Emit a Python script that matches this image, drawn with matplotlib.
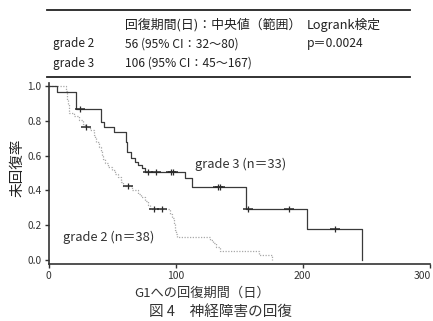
import numpy as np
import matplotlib
matplotlib.use('Agg')
import matplotlib.pyplot as plt
import matplotlib.transforms as mtransforms

plt.rcParams['font.family'] = ['Noto Sans CJK JP', 'DejaVu Sans']

# ---- data ----
# grade 2 (n=38): event times (days) and survival after each step
g2_times = [13.8, 14.3, 14.8, 15.3, 15.8, 16.3, 20.0, 24.0, 27.5, 28.5,
            33.0, 35.8, 36.6, 37.4, 39.8, 41.0, 42.1, 43.3, 44.5, 47.0,
            50.0, 52.5, 54.7, 57.0, 59.0, 66.0, 70.5, 73.0, 76.0, 78.0,
            80.0, 95.7, 97.0, 98.5, 99.6, 100.3, 101.0, 127.0, 129.5, 132.0,
            135.0, 165.7, 176.0]
g2_surv = [0.974, 0.947, 0.921, 0.895, 0.868, 0.845, 0.825, 0.805, 0.780, 0.764,
           0.745, 0.720, 0.700, 0.678, 0.650, 0.625, 0.600, 0.578, 0.557, 0.537,
           0.517, 0.497, 0.477, 0.450, 0.423, 0.400, 0.380, 0.360, 0.340, 0.318,
           0.295, 0.265, 0.240, 0.205, 0.172, 0.150, 0.132, 0.115, 0.098, 0.075,
           0.052, 0.026, 0.0]
g2_censor = [29.5, 62.6, 83.0, 89.4]

# grade 3 (n=33)
g3_times = [6.7, 22.0, 41.3, 43.7, 51.6, 61.0, 61.8, 65.0, 68.0, 70.5,
            73.6, 76.0, 107.5, 113.0, 155.5, 203.5, 246.8]
g3_surv = [0.966, 0.868, 0.793, 0.764, 0.736, 0.678, 0.620, 0.586, 0.563, 0.546,
           0.529, 0.506, 0.471, 0.420, 0.293, 0.178, 0.0]
g3_censor = [24.8, 78.3, 84.6, 96.5, 98.0, 133.5, 135.0, 157.0, 189.4, 225.6]

x_ticks = [0, 100, 200, 300]
y_ticks = [0.0, 0.2, 0.4, 0.6, 0.8, 1.0]

table_header = ["回復期間(日)：中央値（範囲）", "Logrank検定"]
table_rows = [["grade 2", "56 (95% CI：32〜80)", "p＝0.0024"],
              ["grade 3", "106 (95% CI：45〜167)", ""]]

W, H = 433, 321
fig = plt.figure(figsize=(W / 100, H / 100), dpi=100)

def fx(px):
    return px / W

def fy(py):
    return 1 - py / H

ax = fig.add_axes([fx(48.5), fy(264), (429.5 - 48.5) / W, (264 - 82.5) / H])
ax.set_xlim(0, 300)
ax.set_ylim(-0.023, 1.02)


def surv_at(times, surv, t):
    i = np.searchsorted(times, t, side='right') - 1
    return 1.0 if i < 0 else surv[i]


# grade 2: light dotted
ax.step([0] + g2_times, [1.0] + g2_surv, where='post', color='#a8a8a8',
        lw=0.9, ls=(0, (1, 1.2)))
# grade 3: dark solid
ax.step([0] + g3_times, [1.0] + g3_surv, where='post', color='#3a3a3a', lw=0.9)

for times, surv, cens in [(g2_times, g2_surv, g2_censor),
                          (g3_times, g3_surv, g3_censor)]:
    cy = [surv_at(times, surv, c) for c in cens]
    ax.plot(cens, cy, ls='none', marker='_', ms=7, mew=1.1, color='#2a2a2a')
    ax.plot(cens, cy, ls='none', marker='|', ms=5, mew=0.9, color='#2a2a2a')

ax.text(115, 0.55, "grade 3 (n＝33)", fontsize=9.3, color='#333333',
        ha='left', va='center')
ax.text(11.4, 0.13, "grade 2 (n＝38)", fontsize=9.3, color='#333333',
        ha='left', va='center')

for s in ['top', 'right']:
    ax.spines[s].set_visible(False)
for s in ['left', 'bottom']:
    ax.spines[s].set_linewidth(1.2)
    ax.spines[s].set_color('#333333')

ax.set_xticks(x_ticks)
ax.set_xticklabels([str(v) for v in x_ticks], fontsize=7.5, color='#333333')
ax.set_yticks(y_ticks)
ax.set_yticklabels([f"{v:.1f}" for v in y_ticks], fontsize=7.3, color='#333333')
ax.tick_params(axis='both', direction='out', length=3, width=1.0,
               color='#333333', pad=2)
lab = ax.get_xticklabels()[-1]
lab.set_transform(lab.get_transform() +
                  mtransforms.ScaledTranslation(-7 / 100, 0, fig.dpi_scale_trans))

fig.text(fx(17), fy(168), "未回復率", rotation=90, fontsize=10.5,
         ha='center', va='center', color='#222222')
fig.text(fx(202), fy(293), "G1への回復期間（日）", fontsize=9.5,
         ha='center', va='center', color='#333333')
fig.text(fx(220), fy(312), "図 4　神経障害の回復", fontsize=10.5,
         ha='center', va='center', color='#333333')

# table
fig.add_artist(plt.Line2D([fx(47), fx(410)], [fy(10), fy(10)], color='#222222', lw=1.3))
fig.add_artist(plt.Line2D([fx(47), fx(410)], [fy(77), fy(77)], color='#222222', lw=1.3))
fig.text(fx(125), fy(25), table_header[0], fontsize=9.3, ha='left', va='center', color='#222222')
fig.text(fx(307), fy(25), table_header[1], fontsize=9.2, ha='left', va='center', color='#222222')
for r, yy in zip(table_rows, [44, 63]):
    fig.text(fx(53), fy(yy), r[0], fontsize=8.5, ha='left', va='center', color='#222222')
    fig.text(fx(125), fy(yy), r[1], fontsize=8.7, ha='left', va='center', color='#222222')
    if r[2]:
        fig.text(fx(307), fy(yy), r[2], fontsize=8.7, ha='left', va='center', color='#222222')

fig.savefig('out.png', dpi=100)
